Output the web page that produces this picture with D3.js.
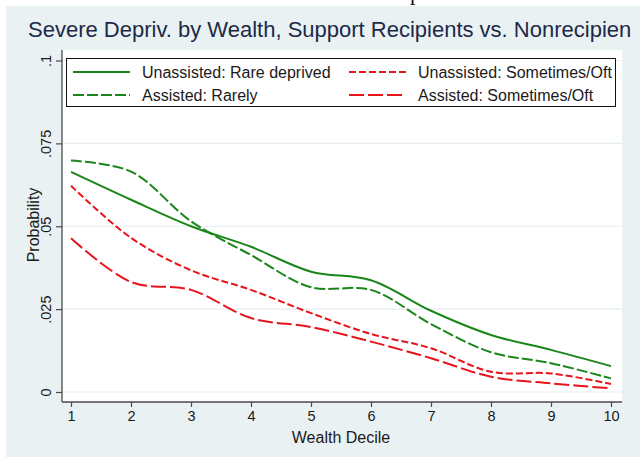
<!DOCTYPE html>
<html>
<head>
<meta charset="utf-8">
<script src="https://cdn.jsdelivr.net/npm/d3@7"></script>
<style>
  html, body { margin: 0; padding: 0; background: #ffffff; }
  svg { display: block; font-family: "Liberation Sans", Arial, sans-serif; }
</style>
</head>
<body>
<svg id="chart" width="640" height="457"></svg>
<script>
// Wealth deciles on the x axis
const deciles = [1, 2, 3, 4, 5, 6, 7, 8, 9, 10];

// Predicted probability of severe deprivation, by group
const unassistedRare      = [0.0664, 0.0580, 0.0500, 0.0438, 0.0363, 0.0337, 0.0245, 0.0172, 0.0127, 0.0078];
const assistedRarely      = [0.0698, 0.0665, 0.0515, 0.0413, 0.0316, 0.0308, 0.0205, 0.0120, 0.0087, 0.0041];
const unassistedSometimes = [0.0622, 0.0465, 0.0367, 0.0308, 0.0238, 0.0175, 0.0132, 0.0061, 0.0056, 0.0024];
const assistedSometimes   = [0.0464, 0.0332, 0.0308, 0.0223, 0.0196, 0.0152, 0.0102, 0.0046, 0.0026, 0.0011];

// Axis ticks
const yTicks = [0, 0.025, 0.05, 0.075, 0.1];
const yTickLabels = ["0", ".025", ".05", ".075", ".1"];

const seriesNames = [
  "Unassisted: Rare deprived",
  "Assisted: Rarely",
  "Unassisted: Sometimes/Oft",
  "Assisted: Sometimes/Oft"
];

const green = "#1a861a";
const red = "#e8141c";

const series = [
  { name: seriesNames[0], values: unassistedRare,      color: green, dash: null },
  { name: seriesNames[1], values: assistedRarely,      color: green, dash: "11,3" },
  { name: seriesNames[2], values: unassistedSometimes, color: red,   dash: "7,3" },
  { name: seriesNames[3], values: assistedSometimes,   color: red,   dash: "15,4" }
];

const svg = d3.select("#chart");
const W = 640, H = 457;

// Page background and graph region
svg.append("rect").attr("width", W).attr("height", H).attr("fill", "#ffffff");
svg.append("rect").attr("x", 6).attr("y", 6).attr("width", W - 6).attr("height", H - 6).attr("fill", "#eaf1f3");

// Bit of page text above the graph
svg.append("text").attr("x", 410).attr("y", 0)
  .attr("font-family", "Liberation Serif, serif").attr("font-size", 22)
  .attr("fill", "#111").text("p");

// Plot region
const plot = { left: 62, right: 622, top: 50, bottom: 402 };
svg.append("rect")
  .attr("x", plot.left).attr("y", plot.top)
  .attr("width", plot.right - plot.left).attr("height", plot.bottom - plot.top)
  .attr("fill", "#ffffff");

const x = d3.scaleLinear().domain([1, 10]).range([71, 611]);
const y = d3.scaleLinear().domain([0, 0.1]).range([392, 60.5]);

// Horizontal gridlines
svg.append("g").selectAll("line").data(yTicks).join("line")
  .attr("x1", plot.left + 1).attr("x2", plot.right)
  .attr("y1", d => y(d)).attr("y2", d => y(d))
  .attr("stroke", "#e6eef1").attr("stroke-width", 1.2);

// Axes
const xAxis = d3.axisBottom(x).tickValues(deciles).tickSize(5).tickPadding(4).tickFormat(d3.format("d"));
const gx = svg.append("g").attr("transform", `translate(0,${plot.bottom})`).call(xAxis);
gx.select(".domain").attr("d", `M${plot.left},0H${plot.right}`);

const yAxis = d3.axisLeft(y).tickValues(yTicks).tickSize(6).tickFormat((d, i) => yTickLabels[i]);
const gy = svg.append("g").attr("transform", `translate(${plot.left},0)`).call(yAxis);
gy.select(".domain").attr("d", `M0,${plot.top}V${plot.bottom}`);

[gx, gy].forEach(g => {
  g.select(".domain").attr("stroke", "#4a4a4a").attr("stroke-width", 1.3);
  g.selectAll(".tick line").attr("stroke", "#4a4a4a").attr("stroke-width", 1.2);
  g.selectAll(".tick text").attr("fill", "#1a1a1a").attr("font-size", 14.5)
    .attr("font-family", "Liberation Sans, Arial, sans-serif");
});
gy.selectAll(".tick text")
  .attr("x", null).attr("dy", null)
  .attr("text-anchor", "middle")
  .attr("transform", "translate(-11,0) rotate(-90)");

// Axis titles
svg.append("text")
  .attr("x", 341).attr("y", 443).attr("text-anchor", "middle")
  .attr("font-size", 16).attr("fill", "#1a1a1a").text("Wealth Decile");
svg.append("text")
  .attr("transform", "translate(39,225) rotate(-90)").attr("text-anchor", "middle")
  .attr("font-size", 16).attr("fill", "#1a1a1a").text("Probability");

// Title (truncated at the graph's right edge)
svg.append("text")
  .attr("x", 28).attr("y", 37)
  .attr("font-size", 22).attr("fill", "#1c2a48")
  .text("Severe Depriv. by Wealth, Support Recipients vs. Nonrecipien");

// Curves
const line = d3.line()
  .x((d, i) => x(deciles[i]))
  .y(d => y(d))
  .curve(d3.curveCatmullRom.alpha(0.5));

svg.append("g").selectAll("path").data(series).join("path")
  .attr("d", d => line(d.values))
  .attr("fill", "none")
  .attr("stroke", d => d.color)
  .attr("stroke-width", 2)
  .attr("stroke-dasharray", d => d.dash);

// Legend
const legend = svg.append("g");
legend.append("rect")
  .attr("x", 66.5).attr("y", 58.5).attr("width", 549).attr("height", 48)
  .attr("fill", "#ffffff").attr("stroke", "#111").attr("stroke-width", 1);

const legendPos = [
  { lx: 73, ly: 72 }, { lx: 73, ly: 95 },
  { lx: 349, ly: 72 }, { lx: 349, ly: 95 }
];
series.forEach((s, i) => {
  const p = legendPos[i];
  legend.append("line")
    .attr("x1", p.lx).attr("x2", p.lx + 57)
    .attr("y1", p.ly).attr("y2", p.ly)
    .attr("stroke", s.color).attr("stroke-width", 2)
    .attr("stroke-dasharray", s.dash);
  legend.append("text")
    .attr("x", p.lx + 69).attr("y", p.ly + 5.5)
    .attr("font-size", 16).attr("fill", "#1a1a1a")
    .text(s.name);
});
</script>
</body>
</html>
